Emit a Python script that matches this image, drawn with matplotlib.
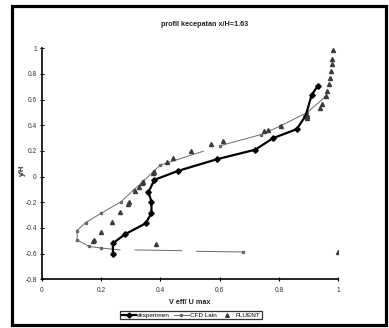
import numpy as np
import matplotlib
matplotlib.use("Agg")
import matplotlib.pyplot as plt
from matplotlib.patches import Rectangle

# ---- data ----
exp_x = [0.93, 0.91, 0.89, 0.86, 0.78, 0.72, 0.59, 0.46, 0.38, 0.36, 0.37, 0.37, 0.35, 0.28, 0.24, 0.24]
exp_y = [0.705, 0.635, 0.475, 0.37, 0.30, 0.21, 0.135, 0.045, -0.025, -0.12, -0.195, -0.285, -0.365, -0.45, -0.52, -0.60]

# CFD Lain (NaN = gaps visible in the reference)
cfd_x = [0.955, 0.895, 0.805, 0.74, 0.60, np.nan, 0.545, 0.40, 0.38, 0.343, 0.31, 0.268, 0.20, 0.148, 0.119, 0.120,
         0.158, 0.20, 0.264, np.nan, 0.315, 0.472, np.nan, 0.522, 0.68]
cfd_y = [0.62, 0.50, 0.395, 0.328, 0.24, np.nan, 0.198, 0.09, 0.047, -0.034, -0.104, -0.195, -0.286, -0.358, -0.42, -0.494,
         -0.543, -0.556, -0.571, np.nan, -0.571, -0.577, np.nan, -0.582, -0.587]
cfd_marks = [0, 1, 2, 3, 4, 7, 8, 9, 10, 11, 12, 13, 14, 15, 16, 17, 24]

flu_x = [0.983, 0.980, 0.979, 0.975, 0.972, 0.967, 0.961, 0.957, 0.944, 0.938, 0.893, 0.895,
         0.807, 0.764, 0.751, 0.610, 0.570, 0.502, 0.444, 0.421, 0.378, 0.374, 0.343, 0.338,
         0.328, 0.313, 0.294, 0.290, 0.264, 0.236, 0.200, 0.176, 0.172, 0.386, 1.0]
flu_y = [0.985, 0.92, 0.875, 0.82, 0.77, 0.72, 0.665, 0.625, 0.565, 0.535, 0.47, 0.455,
         0.395, 0.362, 0.355, 0.278, 0.252, 0.202, 0.145, 0.115, 0.04, 0.03, -0.04, -0.05,
         -0.08, -0.115, -0.195, -0.21, -0.278, -0.35, -0.43, -0.49, -0.505, -0.525, -0.585]

xticks = [0, 0.2, 0.4, 0.6, 0.8, 1]
xtick_labels = ["0", "0.2", "0.4", "0.6", "0.8", "1"]
yticks = [-0.8, -0.6, -0.4, -0.2, 0, 0.2, 0.4, 0.6, 0.8, 1]
ytick_labels = ["-0.8", "-0.6", "-0.4", "-0.2", "0", "0.2", "0.4", "0.6", "0.8", "1"]

plt.rcParams['font.family'] = ['Liberation Sans', 'DejaVu Sans']

W, H = 389, 328
fig = plt.figure(figsize=(W / 100, H / 100), dpi=100)
fig.patch.set_facecolor("white")

ax = fig.add_axes([41.7 / W, 1 - 279.3 / H, (338.3 - 41.7) / W, (279.3 - 48.3) / H])
ax.set_xlim(0, 1)
ax.set_ylim(-0.8, 1)

ax.plot(cfd_x, cfd_y, color="#6a6a6a", lw=0.7, marker="s", ms=1.6, markevery=cfd_marks,
        mfc="#6a6a6a", mec="#6a6a6a", label="CFD Lain", zorder=2)
ax.plot(exp_x, exp_y, color="black", lw=1.6, marker="D", ms=2.8, mfc="black", mec="black",
        label="eksperimen", zorder=3)
ax.plot(flu_x, flu_y, ls="none", marker="^", ms=2.9, color="#3c3c3c", label="FLUENT", zorder=4)

for s in ["top", "right"]:
    ax.spines[s].set_visible(False)
for s in ["left", "bottom"]:
    ax.spines[s].set_linewidth(1.2)
    ax.spines[s].set_color("black")

ax.set_xticks(xticks)
ax.set_xticklabels(xtick_labels)
ax.set_yticks(yticks)
ax.set_yticklabels(ytick_labels)
ax.tick_params(axis="both", labelsize=4.8, labelcolor="#333333", length=3, width=0.8, direction="inout")
ax.tick_params(axis="x", pad=4)
ax.tick_params(axis="y", pad=2)

fig.text(205 / W, 1 - 24 / H, "profil kecepatan x/H=1.63", ha="center", va="center",
         fontsize=5.2, fontweight="bold", color="#222222")
fig.text(190 / W, 1 - 302 / H, "V eff/ U max", ha="center", va="center",
         fontsize=5.2, fontweight="bold", color="#222222")
fig.text(22 / W, 1 - 170 / H, "y/H", ha="center", va="center", rotation=90,
         fontsize=5.2, fontweight="bold", color="#222222")

h, l = ax.get_legend_handles_labels()
order = [1, 0, 2]
leg = fig.legend([h[i] for i in order], [l[i] for i in order], loc="center",
                 bbox_to_anchor=(191 / W, 1 - 315 / H), ncol=3, fontsize=4.6,
                 frameon=True, fancybox=False, edgecolor="black", handlelength=2.3,
                 handletextpad=0.15, columnspacing=0.6, borderpad=0.2, borderaxespad=0,
                 markerscale=0.9)
leg.get_frame().set_linewidth(0.9)

# outer black frame
fig.patches.append(Rectangle((11.5 / W, 1 - 325 / H), (385.5 - 11.5) / W, (325 - 5.5) / H,
                             transform=fig.transFigure, fill=False, edgecolor="black",
                             linewidth=2.3, zorder=10))

fig.savefig("out.png", dpi=100)
